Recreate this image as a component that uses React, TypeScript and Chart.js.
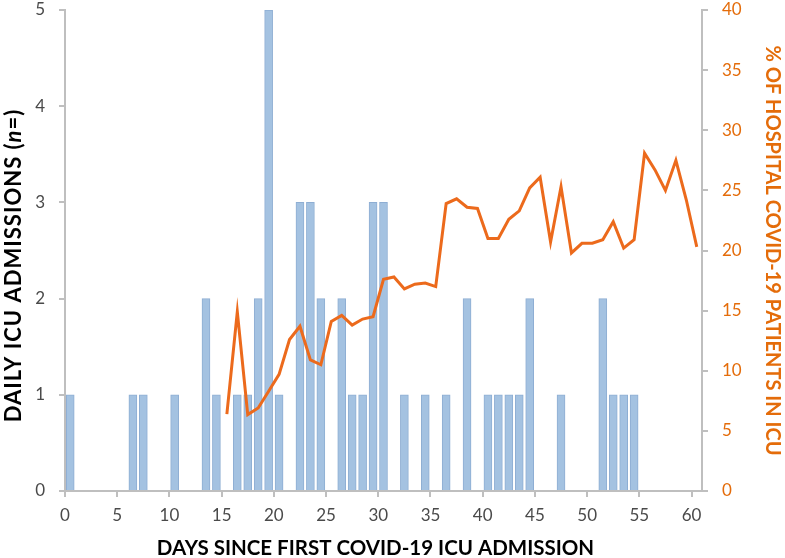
import React, { useEffect, useRef } from 'react'
import { Chart, registerables, ChartConfiguration, Plugin } from 'chart.js'

Chart.register(...registerables)

// daily ICU admissions, one value per day (day 0 .. 60)
const dailyAdmissions = [
  1, 0, 0, 0, 0, 0, 1, 1, 0, 0,
  1, 0, 0, 2, 1, 0, 1, 1, 2, 5,
  1, 0, 3, 3, 2, 0, 2, 1, 1, 3,
  3, 0, 1, 0, 1, 0, 1, 0, 2, 0,
  1, 1, 1, 1, 2, 0, 0, 1, 0, 0,
  0, 2, 1, 1, 1, 0, 0, 0, 0, 0,
  0,
]

// % of hospital covid-19 patients in ICU, from day 15 onwards
const icuPercentStartDay = 15
const icuPercent = [
  6.4, 14.9, 6.35, 6.9, 8.3, 9.7, 12.6, 13.7, 10.9, 10.5,
  14.1, 14.6, 13.8, 14.3, 14.5, 17.6, 17.8, 16.8, 17.2, 17.3,
  17.0, 23.9, 24.3, 23.6, 23.5, 21.0, 21.0, 22.6, 23.3, 25.2,
  26.1, 20.7, 25.3, 19.8, 20.6, 20.6, 20.9, 22.4, 20.2, 20.9,
  28.1, 26.7, 25.0, 27.5, 24.2, 20.3,
]

const xTitle = 'DAYS SINCE FIRST COVID-19 ICU ADMISSION'
const rightTitle = '% OF HOSPITAL COVID-19 PATIENTS IN ICU'

const FONT = "Lato, 'Open Sans', sans-serif"
const ORANGE = '#E46C0A'
const LINE_ORANGE = '#EC6A1C'
const AXIS_GREY = '#bfbfbf'
const TICK_TEXT = '#4a4a4a'

const titlesPlugin: Plugin = {
  id: 'axisTitles',
  afterDraw(chart) {
    const { ctx, chartArea } = chart
    const midY = (chartArea.top + chartArea.bottom) / 2
    ctx.save()
    ctx.textBaseline = 'middle'

    // left title with italic n
    ctx.save()
    ctx.translate(chartArea.left - 51, midY + 15)
    ctx.rotate(-Math.PI / 2)
    ctx.fillStyle = '#000'
    ;(ctx as any).letterSpacing = '1px'
    const parts: [string, string][] = [
      ['DAILY ICU ADMISSIONS (', `bold 22px ${FONT}`],
      ['n', `italic bold 22px ${FONT}`],
      ['=)', `bold 22px ${FONT}`],
    ]
    let total = 0
    parts.forEach(([t, f]) => { ctx.font = f; total += ctx.measureText(t).width })
    let x = -total / 2
    ctx.textAlign = 'left'
    parts.forEach(([t, f]) => {
      ctx.font = f
      ctx.fillText(t, x, 0)
      x += ctx.measureText(t).width
    })
    ctx.restore()

    // right title
    ctx.save()
    ctx.translate(chartArea.right + 70, midY)
    ctx.rotate(Math.PI / 2)
    ctx.fillStyle = ORANGE
    ctx.font = `bold 20px ${FONT}`
    ctx.textAlign = 'center'
    ctx.fillText(rightTitle, 0, 0)
    ctx.restore()

    // bottom title
    ctx.fillStyle = '#000'
    ctx.font = `bold 20.5px ${FONT}`
    ctx.textAlign = 'center'
    ctx.textBaseline = 'alphabetic'
    ctx.fillText(xTitle, (chartArea.left + chartArea.right) / 2 - 8, chartArea.bottom + 64)
    ctx.restore()
  },
}

const noVPad = (w: number) => (scale: any) => {
  scale.width = w
  scale.paddingTop = 0
  scale.paddingBottom = 0
}

const IcuChart = () => {
  const canvasRef = useRef<HTMLCanvasElement>(null)

  useEffect(() => {
    if (!canvasRef.current) return
    const ctx = canvasRef.current.getContext('2d')
    if (!ctx) return

    const barPoints = dailyAdmissions.map((v, i) => ({ x: i + 0.5, y: v === 0 ? null : v }))
    const linePoints = icuPercent.map((v, i) => ({ x: icuPercentStartDay + i + 0.5, y: v }))

    const config: ChartConfiguration<any> = {
      type: 'bar',
      data: {
        datasets: [
          {
            type: 'line',
            label: '% in ICU',
            data: linePoints,
            yAxisID: 'y1',
            borderColor: LINE_ORANGE,
            borderWidth: 3,
            pointRadius: 0,
            tension: 0,
            fill: false,
          },
          {
            type: 'bar',
            label: 'Daily ICU admissions',
            data: barPoints,
            yAxisID: 'y',
            backgroundColor: '#a4c2e1',
            borderColor: '#8eaed3',
            borderWidth: 1,
            barThickness: 8,
          },
        ],
      },
      options: {
        animation: false,
        responsive: true,
        maintainAspectRatio: false,
        layout: { padding: { top: 10, left: 0, right: 0, bottom: 0 } },
        plugins: {
          legend: { display: false },
          tooltip: { enabled: false },
        },
        scales: {
          x: {
            type: 'linear',
            min: 0,
            max: 61,
            offset: false,
            afterFit: (scale: any) => {
              scale.height = 67
              scale.paddingLeft = 0
              scale.paddingRight = 0
            },
            border: { color: AXIS_GREY, width: 2 },
            grid: { offset: false, drawOnChartArea: false, color: AXIS_GREY, lineWidth: 2, tickLength: 6 },
            ticks: {
              stepSize: 5,
              includeBounds: false,
              color: TICK_TEXT,
              padding: 8,
              maxRotation: 0,
              font: { family: FONT, size: 17 },
            },
          },
          y: {
            position: 'left',
            min: 0,
            max: 5,
            afterFit: noVPad(65),
            border: { color: AXIS_GREY, width: 2 },
            grid: { drawOnChartArea: false, color: AXIS_GREY, lineWidth: 2, tickLength: 6 },
            ticks: { stepSize: 1, color: TICK_TEXT, padding: 14, font: { family: FONT, size: 17 } },
          },
          y1: {
            position: 'right',
            min: 0,
            max: 40,
            afterFit: noVPad(83),
            border: { color: AXIS_GREY, width: 2 },
            grid: { drawOnChartArea: false, color: AXIS_GREY, lineWidth: 2, tickLength: 6 },
            ticks: { stepSize: 5, color: ORANGE, padding: 14, font: { family: FONT, size: 17 } },
          },
        },
      },
      plugins: [titlesPlugin],
    }

    const chart = new Chart(ctx, config)
    return () => chart.destroy()
  }, [])

  return (
    <div style={{ position: 'absolute', left: 0, top: 0, width: 785, height: 558, background: '#fff' }}>
      <canvas ref={canvasRef} />
    </div>
  )
}

export default function App() {
  return <IcuChart />
}
